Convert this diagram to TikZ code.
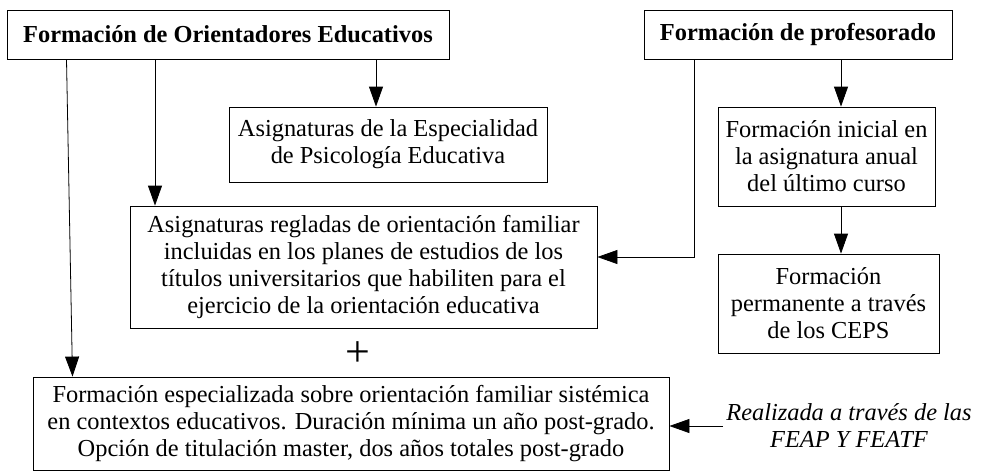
\documentclass[tikz,border=0pt]{standalone}
\usepackage{fontspec}
\setmainfont{Liberation Serif}
\usetikzlibrary{arrows.meta}

\begin{document}
\begin{tikzpicture}[x=1pt,y=-1pt,
  txt/.style={align=center, inner sep=0pt, font=\fontsize{24.4}{27}\selectfont},
  box/.style={txt, draw, line width=0.8pt},
  titlebox/.style={box, font=\fontsize{24.4}{27}\selectfont\bfseries},
  arr/.style={-{Triangle[length=20pt,width=14pt]}, line width=0.8pt}]
  \useasboundingbox (0,0) rectangle (982,472);
  \node[titlebox, minimum width=442pt, minimum height=49pt] (orient) at (228,34.5) {Formación de Orientadores Educativos};
  \node[titlebox, minimum width=308pt, minimum height=49pt] (prof) at (798,34.5) {Formación de profesorado};
  \node[box, minimum width=318pt, minimum height=75pt] (psico) at (388,144.5) {Asignaturas de la Especialidad\\de Psicología Educativa};
  \node[box, minimum width=217pt, minimum height=99pt] (inicial) at (826.5,156.5) {Formación inicial en\\la asignatura anual\\del último curso};
  \node[box, minimum width=467pt, minimum height=122pt] (regladas) at (363.5,267) {Asignaturas regladas de orientación familiar\\incluidas en los planes de estudios de los\\títulos universitarios que habiliten para el\\ejercicio de la orientación educativa};
  \node[box, minimum width=221pt, minimum height=99pt] (perm) at (828.5,303.5) {Formación\\permanente a través\\de los CEPS};
  \node[box, minimum width=636pt, minimum height=93pt] (espec) at (351,423.5) {Formación especializada sobre orientación familiar sistémica\\en contextos educativos. Duración mínima un año post-grado.\\Opción de titulación master, dos años totales post-grado};
  \node[txt, font=\fontsize{44}{44}\selectfont] (mas) at (358,354) {+};
  \node[txt, inner xsep=3pt, font=\fontsize{24.4}{27}\selectfont\itshape] (feap) at (849,426) {Realizada a través de las\\FEAP Y FEATF};

  % orientadores
  \draw[arr] ([xshift=-161.5pt]orient.south) -- ([xshift=-278.5pt]espec.north);
  \draw[arr] ([xshift=-73pt]orient.south) -- ([xshift=-73pt]orient.south |- regladas.north);
  \draw[arr] ([xshift=148pt]orient.south) -- ([xshift=148pt]orient.south |- psico.north);
  % profesorado
  \draw[arr] ([xshift=-104pt]prof.south) |- ([yshift=10pt]regladas.east);
  \draw[arr] ([xshift=43pt]prof.south) -- ([xshift=43pt]prof.south |- inicial.north);
  \draw[arr] ([xshift=14.5pt]inicial.south) -- ([xshift=14.5pt]inicial.south |- perm.north);
  \draw[arr] (feap.west) -- (feap.west -| espec.east);
\end{tikzpicture}
\end{document}
